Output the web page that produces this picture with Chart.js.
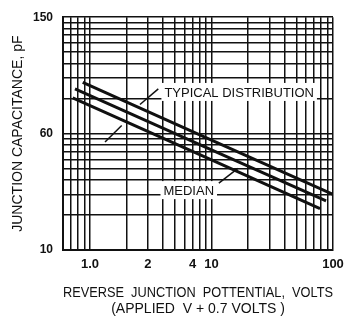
<!DOCTYPE html>
<html>
<head>
<meta charset="utf-8">
<script src="https://cdn.jsdelivr.net/npm/chart.js@4/dist/chart.umd.min.js"></script>
<style>
  html, body { margin: 0; padding: 0; background: #fff; }
  #wrap { width: 358px; height: 321px; }
</style>
</head>
<body>
<div id="wrap"><canvas id="capChart"></canvas></div>
<script>
// Curves (grid units: x 0.6..100, y 10..1000 log)
const upperX = [0.872, 10, 100];
const upperY = [276, 88, 30.1];
const medianX = [0.753, 10, 87.7];
const medianY = [242, 72.6, 26.4];
const lowerX = [0.721, 10, 78.2];
const lowerY = [203, 59.4, 22.7];

// Pointer strokes next to the labels
const typicalPointer = [{x: 2.58, y: 178}, {x: 3.65, y: 242}];
const lowerPointer = [{x: 1.33, y: 84.8}, {x: 1.825, y: 117.3}];
const medianPointer = [{x: 11.5, y: 37.5}, {x: 16.5, y: 50.2}];

// Grid lines and the printed tick labels
const xGridValues = [0.6, 0.7, 0.8, 0.9, 1, 2, 3, 4, 5, 6, 7, 8, 9, 10, 20, 30, 40, 50, 60, 70, 80, 90, 100];
const yGridValues = [10, 20, 30, 40, 50, 60, 70, 80, 90, 100, 200, 300, 400, 500, 600, 700, 800, 900, 1000];
const xLabelAt = [1, 3, 7, 10, 100];
const xLabelText = ['1.0', '2', '4', '10', '100'];
const yLabelAt = [10, 100, 1000];
const yLabelText = ['10', '60', '150'];

// Text labels in the plot
const noteText = ['TYPICAL DISTRIBUTION', 'MEDIAN'];
const noteX = [16.9, 6.5];
const noteY = [228, 32.7];

const ink = '#111';
const fontFamily = "'Liberation Sans', Arial, sans-serif";

function toPoints(xs, ys) {
    return xs.map((x, i) => ({x: x, y: ys[i]}));
}

function curve(data, width) {
    return {
        data: data,
        borderColor: ink,
        borderWidth: width,
        pointRadius: 0,
        fill: false,
        tension: 0
    };
}

// Draws the in-plot labels on a white patch, above the grid and under the curves
const notesPlugin = {
    id: 'notes',
    beforeDatasetsDraw(chart) {
        const ctx = chart.ctx;
        const xs = chart.scales.x;
        const ys = chart.scales.y;
        ctx.save();
        ctx.font = '13px ' + fontFamily;
        ctx.textAlign = 'center';
        ctx.textBaseline = 'middle';
        noteText.forEach((text, i) => {
            const px = xs.getPixelForValue(noteX[i]);
            const py = ys.getPixelForValue(noteY[i]);
            const w = ctx.measureText(text).width;
            ctx.fillStyle = '#fff';
            ctx.fillRect(px - w / 2 - 3, py - 9, w + 6, 18);
            ctx.fillStyle = ink;
            ctx.fillText(text, px, py + 1);
        });
        ctx.restore();
    }
};

new Chart(document.getElementById('capChart'), {
    type: 'line',
    data: {
        datasets: [
            curve(toPoints(upperX, upperY), 3),
            curve(toPoints(medianX, medianY), 3),
            curve(toPoints(lowerX, lowerY), 3),
            curve(typicalPointer, 1.5),
            curve(lowerPointer, 1.5),
            curve(medianPointer, 1.5)
        ]
    },
    options: {
        responsive: true,
        maintainAspectRatio: false,
        animation: false,
        layout: {
            padding: {top: 13, right: 25, left: 0, bottom: 0}
        },
        plugins: {
            legend: {display: false},
            tooltip: {enabled: false}
        },
        scales: {
            x: {
                type: 'logarithmic',
                min: 0.6,
                max: 100,
                afterBuildTicks: function(scale) {
                    scale.ticks = xGridValues.map(v => ({value: v}));
                },
                afterFit: function(scale) {
                    scale.height = 71;
                },
                grid: {
                    color: ink,
                    lineWidth: 1.5,
                    drawTicks: false,
                    tickLength: 0
                },
                border: {color: ink, width: 2},
                ticks: {
                    autoSkip: false,
                    maxRotation: 0,
                    padding: 7,
                    color: ink,
                    font: {family: fontFamily, size: 13, weight: 'bold'},
                    callback: function(value) {
                        const k = xLabelAt.indexOf(value);
                        return k === -1 ? '' : xLabelText[k];
                    }
                },
                title: {
                    display: true,
                    text: ['REVERSE  JUNCTION  POTTENTIAL,  VOLTS', '(APPLIED  V + 0.7 VOLTS )'],
                    color: ink,
                    font: {family: fontFamily, size: 14, lineHeight: 16 / 14},
                    padding: {top: 0, bottom: 4}
                }
            },
            y: {
                type: 'logarithmic',
                min: 10,
                max: 1000,
                afterBuildTicks: function(scale) {
                    scale.ticks = yGridValues.map(v => ({value: v}));
                },
                afterFit: function(scale) {
                    scale.width = 63;
                },
                grid: {
                    color: ink,
                    lineWidth: 1.5,
                    drawTicks: false,
                    tickLength: 0
                },
                border: {color: ink, width: 2},
                ticks: {
                    autoSkip: false,
                    padding: 10,
                    color: ink,
                    font: {family: fontFamily, size: 12, weight: 'bold'},
                    callback: function(value) {
                        const k = yLabelAt.indexOf(value);
                        return k === -1 ? '' : yLabelText[k];
                    }
                },
                title: {
                    display: true,
                    text: 'JUNCTION CAPACITANCE, pF',
                    color: ink,
                    font: {family: fontFamily, size: 14, lineHeight: 1.2},
                    padding: {top: 10, bottom: 0}
                }
            }
        }
    },
    plugins: [notesPlugin]
});
</script>
</body>
</html>
